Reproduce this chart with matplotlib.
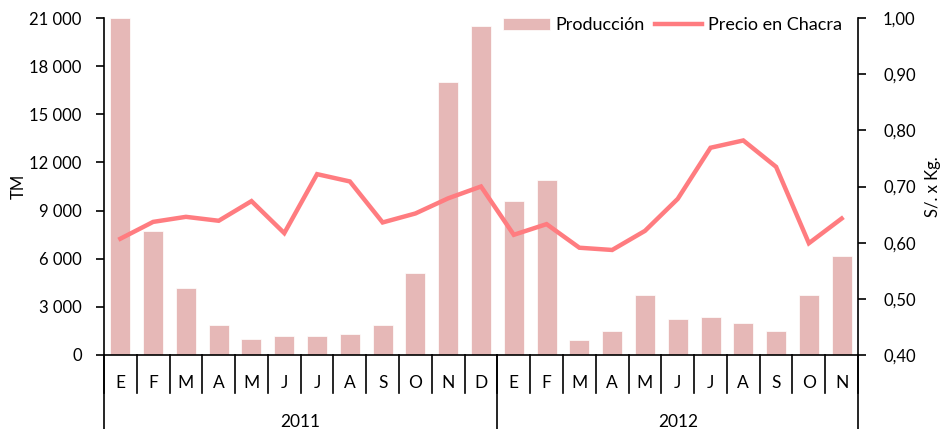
import matplotlib
matplotlib.use("Agg")
import matplotlib.pyplot as plt
import numpy as np
from matplotlib.ticker import FuncFormatter

plt.rcParams['font.family'] = ['Lato', 'DejaVu Sans']

months = ["E", "F", "M", "A", "M", "J", "J", "A", "S", "O", "N", "D",
          "E", "F", "M", "A", "M", "J", "J", "A", "S", "O", "N"]
years = ["2011", "2012"]
year_counts = [12, 11]

produccion = [21000, 7700, 4150, 1870, 1000, 1200, 1200, 1300, 1870, 5130, 17000, 20500,
              9600, 10900, 920, 1500, 3760, 2240, 2350, 1975, 1500, 3760, 6150]
precio = [0.607, 0.637, 0.646, 0.639, 0.674, 0.617, 0.722, 0.709, 0.636, 0.652, 0.679, 0.700,
          0.614, 0.633, 0.591, 0.587, 0.621, 0.678, 0.769, 0.782, 0.735, 0.599, 0.643]

bar_color = "#E6B8B7"
line_color = "#FF7C80"
fs = 12

fig = plt.figure(figsize=(9.45, 4.29), dpi=100)
ax = fig.add_axes([0.110, 0.1725, 0.798, 0.7855])
ax2 = ax.twinx()

x = np.arange(len(months))
ax.bar(x, produccion, width=0.61, color=bar_color, edgecolor="white", linewidth=0.5,
       label="Producción", zorder=2)
ax2.plot(x, precio, color=line_color, lw=3.2, label="Precio en Chacra",
         solid_joinstyle="miter", zorder=3)

ax.set_xlim(-0.5, len(months) - 0.5)
ax.set_ylim(0, 21000)
ax.set_yticks(np.arange(0, 21001, 3000))
ax.yaxis.set_major_formatter(FuncFormatter(lambda v, p: f"{int(v):,}".replace(",", " ")))
ax2.set_ylim(0.40, 1.00)
ax2.set_yticks(np.arange(0.40, 1.001, 0.10))
ax2.yaxis.set_major_formatter(FuncFormatter(lambda v, p: f"{v:.2f}".replace(".", ",")))

for a in (ax, ax2):
    a.spines['top'].set_visible(False)
    for s in a.spines.values():
        s.set_linewidth(1.2)
ax.spines['right'].set_visible(False)
ax2.spines['left'].set_visible(False)
ax2.spines['bottom'].set_visible(False)

ax.tick_params(axis='y', direction='out', length=6, width=1.2, pad=10, labelsize=fs)
ax2.tick_params(axis='y', direction='out', length=6, width=1.2, pad=12, labelsize=fs)
ax.set_xticks([])

ax.set_ylabel("TM", fontsize=fs, labelpad=2)
ax2.set_ylabel("S/. x Kg.", fontsize=fs, labelpad=7)

tr = ax.get_xaxis_transform()
h = 337.0
for i in range(len(months) + 1):
    ax.plot([i - 0.5, i - 0.5], [0, -38 / h], transform=tr, color="black", lw=1.2,
            clip_on=False)
for i, m in enumerate(months):
    ax.text(i, -28 / h, m, transform=tr, ha="center", va="center", fontsize=fs + 0.5)
start = 0
for yr, c in zip(years, year_counts):
    ax.plot([start - 0.5, start - 0.5], [0, -80 / h], transform=tr, color="black", lw=1.2,
            clip_on=False)
    ax.text(start + (c - 1) / 2, -67 / h, yr, transform=tr, ha="center", va="center",
            fontsize=fs + 0.5)
    start += c
ax.plot([start - 0.5, start - 0.5], [0, -80 / h], transform=tr, color="black", lw=1.2,
        clip_on=False)

h1, l1 = ax.get_legend_handles_labels()
h2, l2 = ax2.get_legend_handles_labels()
ax2.legend(h1 + h2, l1 + l2, loc="upper right", bbox_to_anchor=(1.0, 1.05), ncol=2,
           frameon=False, fontsize=13, handlelength=2.6, handletextpad=0.3,
           columnspacing=0.6)

fig.savefig("out.png", dpi=100)
